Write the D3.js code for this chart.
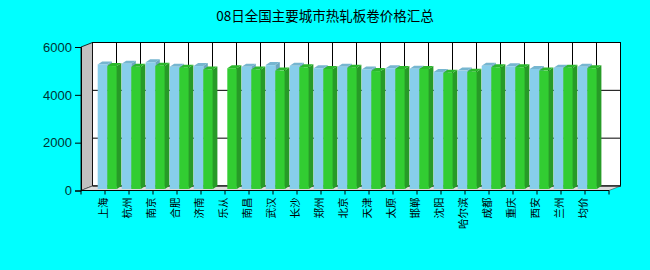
<!DOCTYPE html>
<html>
<head>
<meta charset="utf-8">
<script src="https://cdn.jsdelivr.net/npm/d3@7/dist/d3.min.js"></script>
<style>
  body { margin: 0; background: #00ffff; }
  svg { display: block; }
</style>
</head>
<body>
<svg id="chart" width="650" height="270"></svg>
<script>
// city names along the x axis
var cities = ["上海", "杭州", "南京", "合肥", "济南", "乐从", "南昌", "武汉", "长沙", "郑州", "北京",
  "天津", "太原", "邯郸", "沈阳", "哈尔滨", "成都", "重庆", "西安", "兰州", "均价"];

// first series (light blue), null where no bar is drawn
var seriesBlue = [5210, 5240, 5300, 5110, 5140, null, 5110, 5180, 5150, 5050, 5110,
  5000, 5050, 5030, 4890, 4950, 5150, 5130, 5020, 5070, 5110];

// second series (green)
var seriesGreen = [5140, 5110, 5150, 5070, 5000, 5050, 5000, 4950, 5090, 5020, 5070,
  4930, 5020, 5020, 4860, 4900, 5090, 5090, 4950, 5070, 5050];

var yTicks = [0, 2000, 4000, 6000];
var chartTitle = "08日全国主要城市热轧板卷价格汇总";

var svg = d3.select("#chart");

// front plane of the 3d box
var x = d3.scalePoint().domain(cities).range([81, 609]).padding(1);
var y = d3.scaleLinear().domain([0, 6000]).range([190.5, 47]);
var DX = 11.5, DY = -4.5; // depth of the box
var x0 = 81, x1 = 609;

function poly(pts) {
  return "M" + pts.map(function (p) { return p[0] + "," + p[1]; }).join("L") + "Z";
}

// title
svg.append("text")
  .attr("x", 325)
  .attr("y", 21)
  .attr("text-anchor", "middle")
  .style("font-family", "'Noto Sans CJK SC', sans-serif")
  .style("font-size", "13.5px")
  .text(chartTitle);

// back wall
svg.append("rect")
  .attr("x", x0 + DX)
  .attr("y", y(6000) + DY)
  .attr("width", x1 - x0)
  .attr("height", y(0) - y(6000))
  .attr("fill", "#ffffff")
  .attr("stroke", "#000")
  .attr("stroke-width", 1);

// left wall
svg.append("path")
  .attr("d", poly([[x0, y(6000)], [x0 + DX, y(6000) + DY], [x0 + DX, y(0) + DY], [x0, y(0)]]))
  .attr("fill", "#c0c0c0")
  .attr("stroke", "#000")
  .attr("stroke-width", 0.8);

// floor
svg.append("path")
  .attr("d", poly([[x0, y(0)], [x0 + DX, y(0) + DY], [x1 + DX, y(0) + DY], [x1, y(0)]]))
  .attr("fill", "#dcdcdc")
  .attr("stroke", "#555")
  .attr("stroke-width", 0.7);

// horizontal grid on back wall
yTicks.forEach(function (t) {
  svg.append("line")
    .attr("x1", x0 + DX).attr("x2", x1 + DX)
    .attr("y1", y(t) + DY).attr("y2", y(t) + DY)
    .attr("stroke", "#000").attr("stroke-width", 1);
});

// vertical grid on back wall, one per category
cities.forEach(function (c) {
  svg.append("line")
    .attr("x1", x(c) + DX).attr("x2", x(c) + DX)
    .attr("y1", y(6000) + DY).attr("y2", y(0) + DY)
    .attr("stroke", "#000").attr("stroke-width", 1);
});

// bars
var barW = 9.6;
var bDX = 4.5, bDY = -3; // bar depth
var shiftX = 2.3, shiftY = -1.5; // bars sit a little inside the box

function drawBar(left, value, cFront, cTop, cSide) {
  if (value == null) return;
  var base = y(0) + shiftY;
  var top = y(value) + shiftY;
  var right = left + barW;
  var g = svg.append("g");
  g.append("path")
    .attr("d", poly([[right, top], [right + bDX, top + bDY], [right + bDX, base + bDY], [right, base]]))
    .attr("fill", cSide);
  g.append("path")
    .attr("d", poly([[left, top], [left + bDX, top + bDY], [right + bDX, top + bDY], [right, top]]))
    .attr("fill", cTop);
  g.append("rect")
    .attr("x", left).attr("y", top)
    .attr("width", barW).attr("height", base - top)
    .attr("fill", cFront);
}

cities.forEach(function (c, i) {
  var cx = x(c) + shiftX;
  drawBar(cx - barW, seriesBlue[i], "#87ceeb", "#76b6d0", "#6aa6bf");
  drawBar(cx, seriesGreen[i], "#32cd32", "#2cb82c", "#279b27");
});

// y axis
var yAxis = svg.append("g")
  .attr("transform", "translate(" + x0 + ",0)")
  .call(d3.axisLeft(y).tickValues(yTicks).tickSize(6).tickPadding(3).tickFormat(d3.format("d")));
yAxis.select(".domain").attr("stroke", "#000");
yAxis.selectAll(".tick line").attr("stroke", "#000");
yAxis.selectAll("text")
  .style("font-family", "Arial, 'Liberation Sans', sans-serif")
  .style("font-size", "13px")
  .attr("fill", "#003333");

// x axis line with ticks at every slot boundary
svg.append("line")
  .attr("x1", x0).attr("x2", x1)
  .attr("y1", y(0)).attr("y2", y(0))
  .attr("stroke", "#000").attr("stroke-width", 1);

var tickXs = [x0].concat(cities.map(function (c) { return x(c); })).concat([x1]);
tickXs.forEach(function (tx) {
  svg.append("line")
    .attr("x1", tx).attr("x2", tx)
    .attr("y1", y(0)).attr("y2", y(0) + 4)
    .attr("stroke", "#000").attr("stroke-width", 1);
});

// rotated category labels
cities.forEach(function (c) {
  svg.append("text")
    .attr("transform", "translate(" + (x(c) - 2) + "," + (y(0) + 7) + ") rotate(-90)")
    .attr("text-anchor", "end")
    .attr("dy", "0.35em")
    .style("font-family", "'Noto Sans CJK SC', sans-serif")
    .style("font-size", "10.5px")
    .attr("fill", "#000")
    .text(c);
});
</script>
</body>
</html>
